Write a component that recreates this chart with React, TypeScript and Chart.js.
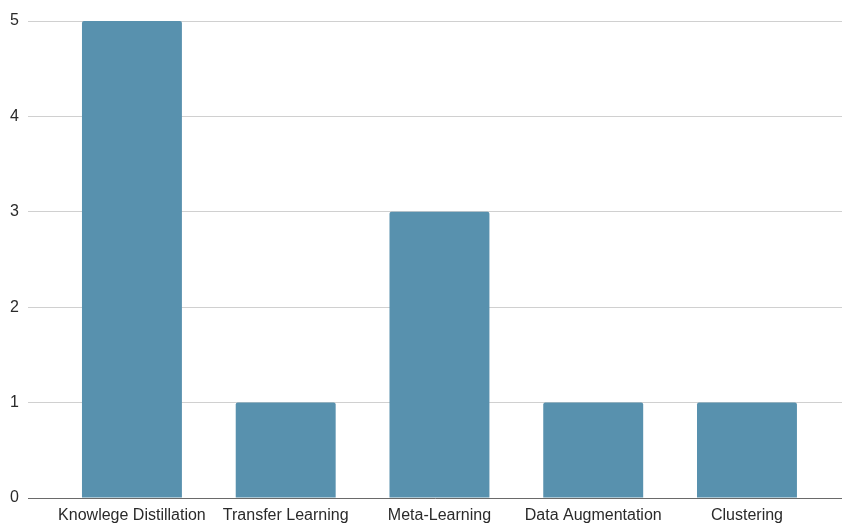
import React, { useEffect, useRef } from "react";
import { Chart, registerables } from "chart.js";

Chart.register(...registerables);

const categories: string[] = [
  "Knowlege Distillation",
  "Transfer Learning",
  "Meta-Learning",
  "Data Augmentation",
  "Clustering",
];
const counts: number[] = [5, 1, 3, 1, 1];
const yTicks: number[] = [0, 1, 2, 3, 4, 5];

const BAR_COLOR = "#5891ae";
const TEXT_COLOR = "#2a2a2a";
const FONT = { family: "'Liberation Sans', Arial, sans-serif", size: 16 };

export default function App() {
  const canvasRef = useRef<HTMLCanvasElement | null>(null);

  useEffect(() => {
    const canvas = canvasRef.current;
    if (!canvas) return;

    const chart = new Chart(canvas, {
      type: "bar",
      data: {
        datasets: [
          {
            data: counts.map((v, i) => ({ x: i, y: v })),
            backgroundColor: BAR_COLOR,
            borderRadius: { topLeft: 2, topRight: 2, bottomLeft: 0, bottomRight: 0 },
            borderSkipped: "bottom",
            barPercentage: 0.65,
            categoryPercentage: 1,
          },
        ],
      },
      options: {
        animation: false,
        responsive: false,
        maintainAspectRatio: false,
        layout: { padding: { top: 21, right: 0, left: 0, bottom: 0 } },
        plugins: {
          legend: { display: false },
          tooltip: { enabled: false },
        },
        scales: {
          x: {
            type: "linear",
            offset: false,
            min: -0.676,
            max: 4.618,
            grid: { display: false, drawTicks: false, offset: false },
            border: { display: true, color: "#6a6a6a", width: 1 },
            afterBuildTicks: (scale: any) => {
              scale.ticks = categories.map((_, i) => ({ value: i }));
            },
            afterFit: (scale: any) => {
              scale.height = 27;
            },
            ticks: {
              autoSkip: false,
              maxRotation: 0,
              padding: 8,
              color: TEXT_COLOR,
              font: FONT,
              callback: (v: any) => categories[Number(v)] ?? "",
            },
          },
          y: {
            min: 0,
            max: 5,
            afterBuildTicks: (scale: any) => {
              scale.ticks = yTicks.map((v) => ({ value: v }));
            },
            afterFit: (scale: any) => {
              scale.width = 28;
            },
            grid: {
              color: "#d0d0d0",
              lineWidth: 1,
              drawTicks: false,
            },
            border: { display: false },
            ticks: {
              padding: 9,
              color: TEXT_COLOR,
              font: FONT,
            },
          },
        },
      },
    });

    return () => chart.destroy();
  }, []);

  return (
    <div style={{ position: "fixed", left: 0, top: 0, width: 842, height: 525, background: "#ffffff" }}>
      <canvas ref={canvasRef} width={842} height={525} style={{ display: "block" }} />
    </div>
  );
}
